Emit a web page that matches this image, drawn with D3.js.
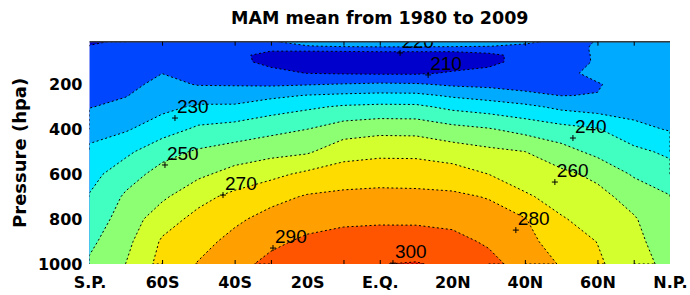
<!DOCTYPE html>
<html lang="en">
<head>
<meta charset="UTF-8">
<script src="https://d3js.org/d3.v7.min.js"></script>
<title>MAM mean temperature</title>
<style>
  body { margin: 0; background: #fff; }
  svg text { font-family: "DejaVu Sans", sans-serif; }
</style>
</head>
<body>
<svg width="690" height="295"></svg>
<script>
// grid: latitude columns, pressure rows (hPa)
const lats = [-90, -78.75, -67.5, -56.25, -45, -33.75, -22.5, -11.25, 0, 11.25, 22.5, 33.75, 45, 56.25, 67.5, 78.75, 90];
const levels = [10, 30, 50, 70, 100, 150, 200, 250, 300, 400, 500, 600, 700, 800, 900, 1000];

// temperature (K) along each pressure level, south pole -> north pole
const t10   = [208, 212, 214, 215, 216, 219, 224, 225, 226, 226, 225, 224, 222, 217.5, 220.3, 222, 223];
const t30   = [210.5, 213, 215, 216, 215, 215.5, 219.5, 221, 221.5, 221.5, 221, 220.2, 218, 216.5, 221, 222.5, 223];
const t50   = [212, 214, 215.5, 216.5, 213.5, 210.3, 210.5, 211, 211.5, 211.5, 211, 212, 214, 216, 221.2, 222.5, 223];
const t70   = [213, 214.5, 216, 217, 212, 207.5, 206, 205, 205, 205, 206.5, 208.5, 212, 216, 221, 222.5, 223];
const t100  = [214, 215, 217, 217.8, 212.5, 207.5, 204.5, 203, 202.5, 202.5, 206, 208.5, 212, 216.5, 220.8, 222.5, 223];
const t150  = [215, 216, 219.9, 218.6, 215, 212.7, 209.8, 209.2, 208.8, 208.8, 210.8, 211.7, 213.5, 218, 222, 222.5, 223];
const t200  = [216, 217.5, 222.4, 219.5, 219.3, 218.6, 219.4, 220.5, 221.4, 221, 218.5, 217.6, 217, 218.5, 219.5, 223, 223];
const t250  = [217.5, 219.6, 224.9, 225.1, 224.8, 227.8, 230.5, 231.8, 232.6, 232.4, 228.7, 226, 222, 219.9, 220.2, 224, 223.5];
const t300  = [219.6, 222.5, 227.4, 231.4, 231.6, 235.5, 238.4, 241.2, 242.2, 242, 237.6, 235.2, 232.5, 227.7, 225.5, 226.3, 225.4];
const t400  = [226.5, 229, 235.3, 241.9, 244.1, 247.2, 250, 255.1, 257.1, 256.8, 253.2, 250.8, 246.7, 243.5, 240.7, 232.6, 229.3];
const t500  = [232, 237.8, 246.8, 251.2, 254.3, 256.9, 258.7, 266, 267.6, 267.6, 265.1, 262.3, 260.1, 253.9, 247.3, 242.7, 237.8];
const t600  = [236.5, 245.9, 253.4, 258, 263.6, 267.5, 272.1, 274.9, 275.9, 275.4, 274.3, 270, 265.4, 262.2, 257.8, 248.9, 244.8];
const t700  = [240.7, 251.4, 258.2, 267.1, 272.5, 277, 280.9, 282.2, 282.7, 282.6, 281.9, 279.4, 271.3, 266.5, 262.9, 256.4, 250.4];
const t800  = [244.3, 254.3, 265.8, 272.8, 278.2, 283.3, 286.7, 288.2, 288.5, 288.4, 287.5, 284.2, 280.5, 270.8, 266.3, 260.9, 252.6];
const t900  = [247.9, 257.2, 271.2, 276.7, 282.9, 288.1, 291.6, 293.3, 294.2, 294.3, 292.8, 288.7, 283.2, 275, 269.8, 262.6, 254.8];
const t1000 = [251.4, 260.1, 273.4, 280.6, 287, 292.5, 295.5, 298, 299.8, 300.6, 298, 293, 286, 279.2, 271.5, 264.3, 257];

const thresholds = [210, 220, 230, 240, 250, 260, 270, 280, 290, 300];
// first colour is for values below the lowest threshold
const colors = ["#0000cd", "#0046ff", "#00aaff", "#00e8ff", "#40ffc0", "#8cff73", "#d2ff2d", "#ffdc00", "#ffa000", "#ff5500", "#ff1e00"];

const xLabels = ["S.P.", "60S", "40S", "20S", "E.Q.", "20N", "40N", "60N", "N.P."];
const xLabelLats = [-90, -67.5, -45, -22.5, 0, 22.5, 45, 67.5, 90];
const tickLats = [-67.5, -45, -33.75, -11.25, 0, 45, 67.5, 78.75];
const yTicks = [200, 400, 600, 800, 1000];

// contour labels: value and where the "+" sits
const labelValues = [300, 290, 280, 270, 260, 250, 240, 230, 210, 220];
const labelLats   = [4.1, -33.1, 42.2, -48.6, 54.3, -66.6, 59.9, -63.5, 15, 6.3];
const labelPress  = [996, 929, 849, 693, 635, 559, 439, 350, 158, 60];

const svg = d3.select("svg");
const mLeft = 89.5, mRight = 670, mTop = 41.7, mBottom = 264;

const x = d3.scaleLinear().domain([-90, 90]).range([mLeft, mRight]);
const y = d3.scaleLinear().domain([10, 1000]).range([mTop, mBottom]);

// grid index -> data coordinate
const nx = lats.length, ny = levels.length;
const iLat = d3.scaleLinear().domain(d3.range(nx)).range(lats);
const iLev = d3.scaleLinear().domain(d3.range(ny)).range(levels);
const clampI = (c, n) => Math.max(0, Math.min(n - 1, c - 0.5));
const gx = c => x(iLat(clampI(c, nx)));
const gy = c => y(iLev(clampI(c, ny)));

const rows = [t10, t30, t50, t70, t100, t150, t200, t250, t300, t400, t500, t600, t700, t800, t900, t1000];
const values = rows.flat();
const contours = d3.contours().size([nx, ny]).thresholds(thresholds)(values);

const proj = d3.geoTransform({ point(px, py) { this.stream.point(gx(px), gy(py)); } });
const path = d3.geoPath(proj);

svg.append("clipPath").attr("id", "plot")
  .append("rect").attr("x", mLeft).attr("y", mTop)
  .attr("width", mRight - mLeft).attr("height", mBottom - mTop);

const g = svg.append("g").attr("clip-path", "url(#plot)");

g.append("rect")
  .attr("x", mLeft).attr("y", mTop)
  .attr("width", mRight - mLeft).attr("height", mBottom - mTop)
  .attr("fill", colors[0]);

g.selectAll("path.fill")
  .data(contours)
  .join("path")
  .attr("class", "fill")
  .attr("d", path)
  .attr("fill", (d, i) => colors[i + 1]);

// iso-lines without the pieces that run along the frame
function onBorder(a, b) {
  return (a[0] <= 0 && b[0] <= 0) || (a[0] >= nx && b[0] >= nx) ||
         (a[1] <= 0 && b[1] <= 0) || (a[1] >= ny && b[1] >= ny);
}
const runs = [];
contours.forEach(c => {
  c.coordinates.forEach(poly => poly.forEach(ring => {
    let run = [];
    for (let k = 0; k < ring.length - 1; k++) {
      const a = ring[k], b = ring[k + 1];
      if (onBorder(a, b)) {
        if (run.length > 1) runs.push(run);
        run = [];
      } else {
        if (run.length === 0) run.push(a);
        run.push(b);
      }
    }
    if (run.length > 1) runs.push(run);
  }));
});

const line = d3.line().x(p => gx(p[0])).y(p => gy(p[1]));
g.selectAll("path.iso")
  .data(runs)
  .join("path")
  .attr("class", "iso")
  .attr("d", line)
  .attr("fill", "none")
  .attr("stroke", "#000")
  .attr("stroke-width", 1)
  .attr("stroke-dasharray", "2,2.5");

// contour labels
const lab = g.selectAll("g.lab")
  .data(labelValues)
  .join("g")
  .attr("class", "lab")
  .attr("transform", (d, i) => "translate(" + x(labelLats[i]) + "," + y(labelPress[i]) + ")");
lab.append("path").attr("d", "M-3,0H3M0,-3V3").attr("stroke", "#000").attr("stroke-width", 1);
lab.append("text")
  .attr("x", 2).attr("y", -5)
  .style("font-family", "'Liberation Sans', Arial, sans-serif")
  .style("font-size", "19px")
  .attr("fill", "#000")
  .text(d => d);

// frame top
svg.append("line")
  .attr("x1", mLeft).attr("x2", mRight).attr("y1", mTop).attr("y2", mTop)
  .attr("stroke", "#3a3a3a").attr("stroke-width", 1.5);

// inner tick marks
svg.append("g").attr("transform", "translate(0," + mBottom + ")")
  .call(d3.axisBottom(x).tickValues(tickLats).tickSize(-4).tickFormat(""))
  .call(a => a.select(".domain").remove());
svg.append("g").attr("transform", "translate(0," + mTop + ")")
  .call(d3.axisTop(x).tickValues(tickLats).tickSize(-4).tickFormat(""))
  .call(a => a.select(".domain").remove());

// x labels
svg.append("g").attr("transform", "translate(0," + mBottom + ")")
  .call(d3.axisBottom(x).tickValues(xLabelLats).tickSize(0).tickPadding(0)
    .tickFormat((d, i) => xLabels[i]))
  .call(a => a.select(".domain").remove())
  .selectAll("text")
  .attr("dy", null).attr("y", 24)
  .style("font-family", "'DejaVu Sans', sans-serif")
  .style("font-size", "16px").style("font-weight", "bold").attr("fill", "#000");

// y labels
svg.append("g").attr("transform", "translate(" + mLeft + ",0)")
  .call(d3.axisLeft(y).tickValues(yTicks).tickSize(0).tickPadding(7).tickFormat(d3.format("d")))
  .call(a => a.select(".domain").remove())
  .selectAll("text")
  .style("font-family", "'DejaVu Sans', sans-serif")
  .style("font-size", "16px").style("font-weight", "bold").attr("fill", "#000");

svg.append("text")
  .attr("transform", "translate(26," + ((mTop + mBottom) / 2) + ") rotate(-90)")
  .attr("text-anchor", "middle")
  .style("font-size", "18px").style("font-weight", "bold")
  .text("Pressure (hpa)");

svg.append("text")
  .attr("x", (mLeft + mRight) / 2).attr("y", 24)
  .attr("text-anchor", "middle")
  .style("font-size", "17.5px").style("font-weight", "bold")
  .text("MAM mean from 1980 to 2009");
</script>
</body>
</html>
